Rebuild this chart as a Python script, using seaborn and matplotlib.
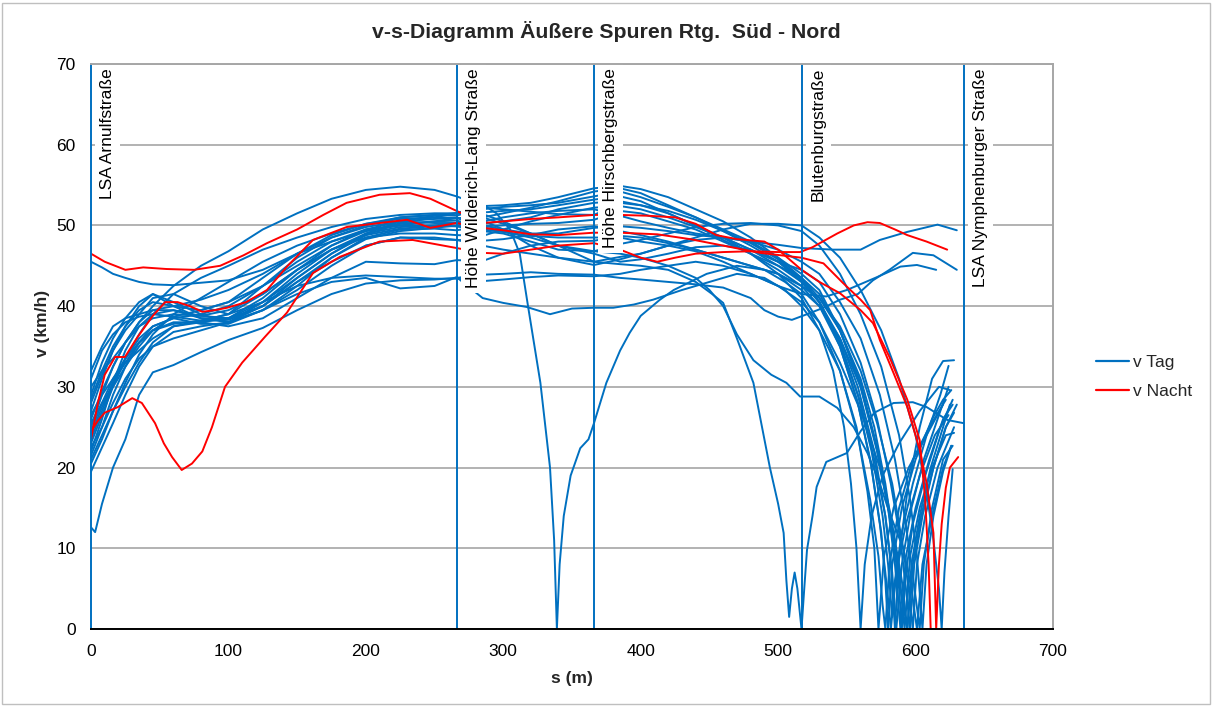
import pandas as pd
import seaborn as sns
import matplotlib.pyplot as plt
from matplotlib.lines import Line2D
from matplotlib.patches import Rectangle

sns.set_theme(style='white')
plt.rcParams['font.family'] = ['Liberation Sans', 'DejaVu Sans']

# Messpunkte (s in m) für die meisten Fahrten bis zur Blutenburgstraße
s_road = [0, 8, 16, 25, 35, 45, 60, 80, 100, 125, 150, 175, 200, 225, 250, 266,
          285, 300, 320, 340, 366, 385, 400, 420, 440, 460, 480, 500, 517]

# v Tag: Geschwindigkeiten an s_road
tag_road_v = [
    [30, 32, 33.5, 35.5, 38, 40, 42.5, 45, 46.8, 49.5, 51.5, 53.3, 54.4, 54.8, 54.4, 53.6,
     52.4, 52.5, 52.8, 53.5, 54.6, 54.9, 54.5, 53.5, 52, 50.5, 48.5, 46, 43.5],
    [45.5, 44.8, 44, 43.5, 43, 42.7, 42.6, 42.9, 43.2, 44.5, 46.5, 48, 49.3, 50, 50.5, 50.9,
     51, 51.5, 52.2, 53, 54.2, 54.6, 54, 52.5, 51, 49.5, 48, 46, 44],
    [26, 29.5, 32.5, 35.5, 38, 39.5, 39.5, 38.5, 38.5, 41, 44.5, 47.5, 49.5, 50.5, 50.8, 50.9,
     50, 49.5, 49, 49, 49.7, 49.9, 49.7, 49.3, 48.8, 48.5, 48, 47.6, 47.2],
    [22.5, 25, 28, 31, 33.5, 35, 36, 37, 38, 40.5, 42.5, 43.5, 43.8, 43.6, 43.4, 43.4,
     43.1, 43.3, 43.6, 43.8, 43.7, 44, 44.5, 45, 45.5, 45, 44, 42.5, 41.5],
    [27, 31, 34.5, 37, 39, 41, 41.5, 40, 39, 40.5, 43.5, 46.5, 48.8, 50.3, 51, 51.5,
     51.6, 51.8, 52, 52.5, 53.2, 53.6, 53, 51.5, 50, 48.2, 46.5, 44, 41],
    [23, 26.5, 30, 33.5, 36, 37.5, 38.5, 39, 40, 42.5, 45.5, 48, 49.5, 50, 50, 50.3,
     50.2, 50.5, 51, 52, 52.8, 53, 52.5, 51.5, 50, 48.5, 47, 45.5, 44.5],
    [25, 29, 32.5, 35.5, 37.5, 38.5, 39, 38.8, 39.5, 41.5, 44.5, 47, 48.5, 49, 49, 48.8,
     48.7, 49.5, 50.5, 51.3, 52.2, 52.4, 52, 51, 49.8, 48.5, 46.5, 44.5, 42.5],
    [29, 33, 36, 38.5, 40.5, 41.5, 40.5, 39, 38, 39.5, 42.5, 46, 48.5, 49.5, 49.6, 49.4,
     49.9, 50, 50.2, 50.3, 50.7, 51.8, 51.5, 50.5, 49.5, 48, 46.5, 45, 43.5],
    [31, 34.5, 36.5, 38, 38.7, 39, 38.7, 38.2, 39, 42.5, 46, 48.5, 50, 51, 51.3, 51.5,
     52, 52.3, 52.5, 52.8, 53.6, 54.2, 53.5, 52.3, 51, 49.3, 47.5, 45.5, 43],
    [20.5, 23.5, 27, 30.5, 34, 36.5, 39, 41, 43, 45.5, 47.5, 49, 50.2, 50.8, 51, 50.9,
     51, 50.2, 49, 47.5, 45.5, 46.1, 46.5, 47.5, 48.5, 49.5, 50.2, 50.2, 50],
    [23.5, 27, 30.5, 33.5, 36.5, 39, 41.5, 43.5, 45, 47, 48.5, 49.8, 50.8, 51.3, 51.5, 51.5,
     51.4, 50.5, 49, 47.5, 46.8, 47.7, 48.2, 49, 49.8, 50.2, 50.3, 50, 49.3],
    [26.5, 29, 31, 33, 34.5, 36, 37.5, 38, 37.5, 38.5, 41, 43.5, 45.5, 45.3, 45.2, 45.7,
     45.6, 46.5, 47.5, 48, 48.1, 48.7, 48.5, 47.8, 47, 46, 45, 44, 42],
    [24, 27.5, 30.5, 33, 35.5, 37.5, 38.5, 37.8, 37.8, 39.5, 42, 45, 47.5, 48.5, 48.3, 48.2,
     48.1, 48.3, 48.8, 49.5, 49.9, 49.3, 48.8, 48, 47, 46, 45, 44, 42.5],
    [28.5, 32, 35, 37.5, 39.5, 40.5, 40, 39.5, 40.5, 43.5, 46.5, 48.5, 49.8, 50.5, 50.3, 50.3,
     50.6, 49.5, 47.5, 46, 45.1, 45.8, 46.5, 47.5, 48.2, 48.5, 48, 47, 45.5],
    [21.5, 25, 29, 32.5, 35.5, 37, 37.8, 38.2, 39, 41.5, 44.5, 47, 48.8, 49.6, 49.9, 49.9,
     49.5, 49.2, 48.7, 48.5, 48.5, 48.5, 48, 47.5, 46.8, 45.5, 44, 42.5, 40.5],
    [22, 26, 30.5, 34.5, 37.5, 39, 39.5, 38.8, 38.5, 40, 43, 46, 48.3, 49.3, 49.7, 50,
     50.5, 51, 51.5, 51.8, 52, 51.2, 50.5, 49.7, 49, 48.5, 47, 45, 43],
    [25.5, 28, 30, 32.5, 35, 37, 38.7, 39.5, 40.5, 42.5, 45, 47.5, 49.3, 50.2, 50.5, 50.6,
     49.8, 49.2, 48.5, 47.5, 46.5, 45.5, 45.8, 46.5, 47.3, 47.5, 47, 45.5, 43.5],
    [32, 35, 37.5, 38.5, 39, 39.5, 40, 40.8, 42, 44, 46.5, 48.8, 50.2, 51, 51.3, 51.2,
     52.2, 52, 51.7, 51.4, 51.3, 52.8, 52.5, 51.8, 50.7, 49.3, 47.8, 45.8, 43.2],
]

# v Tag: Verlauf nach der Blutenburgstraße
tag_tail_s = [
    [530, 545, 560, 570, 578, 582, 585, 588, 594, 603, 612, 620, 628],
    [530, 545, 560, 572, 582, 588, 592, 596, 603, 612, 622, 628],
    [540, 560, 574, 594, 616, 630],
    [535, 550, 572, 589, 601, 615],
    [530, 540, 548, 553, 557, 560, 563, 568, 576, 588, 603, 617, 625],
    [530, 545, 560, 572, 582, 589, 593, 596, 599, 605, 613, 622, 628],
    [530, 545, 558, 568, 575, 578, 580, 583, 590, 600, 612, 620, 626],
    [530, 545, 560, 572, 580, 585, 589, 593, 600, 610, 620, 627],
    [530, 545, 558, 568, 576, 580, 583, 585, 590, 598, 608, 618, 624],
    [530, 545, 560, 575, 588, 600, 608, 613, 617, 619, 621, 624, 627],
    [530, 545, 560, 575, 588, 596, 601, 605, 608, 613, 620, 626],
    [530, 545, 558, 570, 578, 583, 586, 590, 597, 606, 617, 624],
    [530, 545, 560, 572, 583, 591, 595, 598, 601, 607, 616, 628],
    [530, 545, 560, 574, 585, 592, 597, 600, 603, 606, 612, 620, 627],
    [530, 545, 560, 574, 584, 590, 594, 598, 604, 613, 622, 630],
    [530, 545, 558, 567, 574, 578, 581, 582, 586, 593, 603, 614, 624],
    [530, 545, 560, 570, 578, 584, 588, 590, 593, 598, 607, 618, 627],
    [530, 545, 560, 571, 579, 586, 590, 594, 597, 603, 611, 620, 625],
]
tag_tail_v = [
    [40.5, 35.5, 28, 21, 14, 8, 0, 9, 17, 25, 31, 33.2, 33.3],
    [42, 37, 30, 22, 14, 7, 0, 9, 15, 20, 24, 24.3],
    [47, 47, 48.2, 49.2, 50.1, 49.4],
    [41.2, 42, 43.6, 44.9, 45.1, 44.5],
    [37, 32, 25, 18, 10, 0, 8, 14, 19, 23, 27, 30, 29.6],
    [43, 39, 33, 26, 18, 11, 5, 0, 8, 14, 20, 25, 26.8],
    [40, 35, 28, 20, 12, 6, 0, 8, 15, 21, 26, 28.4, 29.6],
    [41.5, 37, 30.5, 22.5, 15, 8, 0, 9, 15, 21, 26, 27.8],
    [40.5, 35.5, 29, 22, 14, 8, 1.5, 6, 12, 18, 24, 29, 32.6],
    [48.5, 46, 42, 37, 31, 24, 17, 11, 5, 0, 7, 14, 19.8],
    [47.5, 44, 39, 32.5, 24, 16, 9, 0, 8, 14, 19.5, 22.7],
    [40, 36, 30, 22, 14, 7, 0, 8, 15, 21, 26.5, 30],
    [41, 37.5, 32, 25.5, 18, 10, 5, 0, 8, 14, 20, 25],
    [44, 40.5, 36, 29, 21, 14, 8, 4, 0, 8, 15, 21, 22.7],
    [38, 33, 27, 20, 12, 6, 0, 8, 14, 20, 25, 27.8],
    [40.5, 35, 28, 21, 13, 7, 2, 0, 7, 13, 19, 24, 26.5],
    [41, 37, 31, 25, 18, 11, 5, 0, 7, 13, 19, 25, 28.4],
    [40.5, 36, 30, 23, 16, 9, 4, 0, 8, 14, 20, 25, 27.8],
]

# v Tag: Fahrten mit eigenen Messpunkten
tag_extra_s = [
    [0, 3, 8, 16, 25, 35, 45, 60, 80, 100, 125, 150, 175, 200, 225, 250, 266,
     285, 300, 320, 340, 366, 385, 400, 420, 440, 460, 480, 490, 500, 510, 521,
     533, 545, 558, 569, 581, 598, 613, 630],
    [0, 8, 16, 25, 35, 45, 60, 80, 100, 125, 150, 175, 200, 225, 250, 266,
     285, 295, 305, 312, 318, 327, 334, 337, 339, 341, 344, 349, 356, 362, 366,
     375, 385, 392, 400, 414, 424, 448, 470, 490, 505, 517,
     530, 545, 558, 567, 573, 576, 578, 581, 588, 598, 610, 622],
    [0, 8, 16, 25, 35, 45, 60, 80, 100, 125, 150, 175, 200, 225, 250, 266,
     285, 300, 320, 340, 366, 385, 400, 420, 440, 452, 460, 470, 482, 494, 500,
     504, 506, 508, 510, 512, 514, 517, 519, 521, 525,
     528, 535, 550, 560, 570, 584, 598, 608, 623, 635],
    [0, 8, 16, 25, 35, 45, 60, 80, 100, 125, 150, 175, 200, 225, 250, 266,
     285, 300, 320, 340, 366, 385, 400, 420, 440, 450, 460, 470, 482, 495, 506,
     516, 530, 543, 555, 565, 574, 581, 591, 597, 601, 605, 612, 620, 626],
    [0, 8, 16, 25, 35, 45, 60, 80, 100, 125, 150, 175, 200, 225, 250, 266,
     285, 300, 317, 334, 350, 366, 380, 395, 409, 430,
     450, 470, 490, 505, 517, 530, 545, 557, 565, 570, 573, 577, 584, 595, 608, 620],
]
tag_extra_v = [
    [12.6, 12, 15.5, 20, 23.5, 29, 31.8, 32.7, 34.3, 35.8, 37.3, 39.5, 41.5, 42.8, 43.2, 43.3, 43.5,
     43.9, 44, 44.2, 44, 43.9, 43.5, 43.3, 43, 42.7, 42.3, 41, 39.5, 38.7, 38.3, 39,
     39.8, 40.8, 41.5, 43.2, 44.5, 46.6, 46.3, 44.5],
    [28, 31.5, 34.5, 37.5, 40, 41.5, 40, 38.5, 38, 40, 43.5, 46.5, 49, 50.5, 51.2, 51.5,
     52.6, 51.5, 49.5, 46.5, 40, 30.5, 20, 11, 0, 8, 14, 19, 22.4, 23.5, 25.5,
     30.5, 34.5, 36.7, 38.8, 40.8, 42, 44, 45, 44.5, 43, 41.5,
     38, 32, 24, 16, 9, 3, 0, 8, 15, 21, 25, 28.4],
    [21, 24, 27, 30, 33, 35.5, 37.5, 38.2, 38.3, 40, 43, 45.5, 47.5, 48.5, 48.5, 48.2,
     47.5, 47, 46.5, 46, 45.5, 45.2, 45, 44.5, 43, 41.5, 40.4, 36, 30.5, 20, 15.5,
     11.9, 6, 1.5, 5, 7, 5, 0, 5, 9.8, 14,
     17.6, 20.7, 21.8, 24.5, 26.8, 28, 28.1, 27.5, 25.9, 25.5],
    [24.5, 28, 31, 33.5, 35.5, 37, 38, 38, 38.5, 40.5, 44, 47, 49, 49.8, 50, 49.9,
     49.3, 49, 48, 47, 46.8, 46.5, 46, 45, 43.5, 42, 40, 36.5, 33.3, 31.5, 30.5,
     28.8, 28.8, 27.4, 25, 21.8, 18, 14.4, 10, 5, 0, 8, 14, 20, 22.7],
    [19.5, 22.5, 25.5, 29, 32.5, 35, 36.8, 37.5, 38, 39.5, 41.5, 43, 43.5, 42.2, 42.5, 43.6,
     41, 40.4, 39.9, 39, 39.7, 39.8, 39.8, 40.2, 40.8, 42,
     43, 44, 43.5, 42, 40, 37, 32, 25, 17, 10, 0, 9, 15, 20, 24, 27.8],
]

# v Nacht
nacht_s = [
    [0, 10, 25, 38, 55, 75, 94, 111, 128, 150, 169, 186, 210, 232, 247, 266,
     285, 300, 320, 340, 366, 385, 405, 425, 440, 455, 470, 490, 500, 517, 530,
     545, 560, 569, 581, 594, 603, 607, 609.5, 611],
    [0, 5, 10, 17.5, 24.7, 34, 45, 54, 63, 72, 81, 90, 99, 113, 128, 142.6, 161.5,
     186, 210, 230, 247, 266, 285, 300, 320, 340, 366, 385, 412, 436, 460, 487, 517,
     533, 547, 560, 567, 574, 584, 594, 603, 608, 613, 615, 617, 619, 622, 625, 631],
    [0, 5, 10, 19.6, 30, 37, 46.6, 53, 59, 66, 73.5, 81, 88, 97.5, 110, 126.6, 142.6,
     161.5, 181, 210, 234, 266, 285, 300, 320, 340, 366, 385, 400, 412, 425, 440, 460,
     480, 500, 516, 525, 543, 555, 565, 574, 585, 594, 608, 623],
]
nacht_v = [
    [46.5, 45.5, 44.5, 44.8, 44.6, 44.5, 45, 46.3, 47.8, 49.5, 51.3, 52.8, 53.8, 54, 53.3, 51.8,
     50.3, 50.5, 50.8, 51, 51.3, 51.3, 51.2, 51, 50.2, 48.8, 48.3, 48, 47, 44.5, 43,
     41.6, 39.5, 37.9, 33.7, 28.4, 23.4, 16, 8, 0],
    [23.5, 28, 31.5, 33.7, 33.7, 36.2, 38.8, 40.5, 40.5, 40, 39.3, 39.5, 39.8, 40.5, 42, 44.9, 48.2,
     49.8, 50.3, 50.7, 49.7, 50.3, 49.7, 49.4, 48.9, 48.8, 49.1, 49.1, 48.9, 48.3, 47.5, 46.6, 46,
     45.3, 42.9, 40.8, 39.5, 35.8, 31.7, 27.5, 22.2, 18.1, 11.9, 0, 8, 13, 17.5, 20, 21.3],
    [24.5, 25.8, 26.8, 27.5, 28.6, 28, 25.5, 23, 21.3, 19.7, 20.5, 22, 25, 30, 33, 36.2, 39.2,
     44.1, 46.1, 48, 48.2, 47.2, 46.6, 46.5, 47, 47.5, 47.8, 47, 46, 45.5, 46, 46.5, 46.7,
     46.8, 46.7, 46.7, 47.3, 49, 50, 50.4, 50.3, 49.5, 48.8, 48, 47],
]

street_s = [0, 266, 366, 517, 635]
street_names = ['LSA Arnulfstraße', 'Höhe Wilderich-Lang Straße', 'Höhe Hirschbergstraße',
                'Blutenburgstraße', 'LSA Nymphenburger Straße']

blue = '#0070C0'
red = '#FF0000'

# Tabellen für seaborn
rows = []
run = 0
for v_road, ts, tv in zip(tag_road_v, tag_tail_s, tag_tail_v):
    for s, v in zip(s_road + ts, v_road + tv):
        rows.append((run, s, v))
    run += 1
for es, ev in zip(tag_extra_s, tag_extra_v):
    for s, v in zip(es, ev):
        rows.append((run, s, v))
    run += 1
df_tag = pd.DataFrame(rows, columns=['run', 's', 'v'])

rows = []
for k, (ns, nv) in enumerate(zip(nacht_s, nacht_v)):
    for s, v in zip(ns, nv):
        rows.append((k, s, v))
df_nacht = pd.DataFrame(rows, columns=['run', 's', 'v'])

fig = plt.figure(figsize=(12.13, 7.06), dpi=100)
ax = fig.add_axes([91 / 1213, 1 - 629 / 706, 962 / 1213, 565 / 706])

sns.lineplot(data=df_tag, x='s', y='v', units='run', estimator=None, sort=False,
             color=blue, linewidth=1.4, legend=False, ax=ax)
sns.lineplot(data=df_nacht, x='s', y='v', units='run', estimator=None, sort=False,
             color=red, linewidth=1.4, legend=False, ax=ax)

# Knotenpunkte
for s in street_s[1:]:
    ax.axvline(s, color=blue, linewidth=1.4, zorder=2.2)
for s, name in zip(street_s, street_names):
    ax.text(s + 12.2, 69.5, name, rotation=90, ha='center', va='top', fontsize=12.5,
            color='black', zorder=3,
            bbox=dict(facecolor='white', edgecolor='none', pad=3.5))

ax.set_xlim(0, 700)
ax.set_ylim(0, 70)
ax.set_xticks(range(0, 701, 100))
ax.set_yticks(range(0, 71, 10))
ax.tick_params(length=0, labelsize=12.5, pad=11, colors='black')
ax.yaxis.grid(True, color='#a6a6a6', linewidth=1.2)
ax.xaxis.grid(False)
ax.set_axisbelow(True)

ax.spines['left'].set_color(blue)
ax.spines['left'].set_linewidth(1.4)
ax.spines['bottom'].set_color('black')
ax.spines['bottom'].set_linewidth(1.4)
for side in ['top', 'right']:
    ax.spines[side].set_color('#a6a6a6')
    ax.spines[side].set_linewidth(1.4)
for spine in ax.spines.values():
    spine.set_zorder(4)

ax.set_xlabel('s (m)', fontsize=12.5, fontweight='bold')
ax.set_ylabel('v (km/h)', fontsize=12.5, fontweight='bold')
ax.xaxis.label.set_va('center')
ax.yaxis.label.set_va('center')
ax.xaxis.set_label_coords(0.5, -50 / 565)
ax.yaxis.set_label_coords(-49 / 962, (629 - 323) / 565)

fig.text(0.5, 1 - 32 / 706, 'v-s-Diagramm Äußere Spuren Rtg.  Süd - Nord',
         ha='center', va='center', fontsize=15.3, fontweight='bold')

handles = [Line2D([0], [0], color=blue, linewidth=1.6),
           Line2D([0], [0], color=red, linewidth=1.6)]
fig.legend(handles, ['v Tag', 'v Nacht'], loc='center left',
           bbox_to_anchor=(1096 / 1213, 1 - 377 / 706), frameon=False,
           fontsize=12.5, handlelength=1.9, handletextpad=0.25, labelspacing=0.75,
           borderpad=0, borderaxespad=0)

fig.add_artist(Rectangle((2 / 1213, 2 / 706), 1208 / 1213, 701 / 706,
                         transform=fig.transFigure, fill=False,
                         edgecolor='#bfbfbf', linewidth=1))

fig.savefig('out.png', dpi=100)
